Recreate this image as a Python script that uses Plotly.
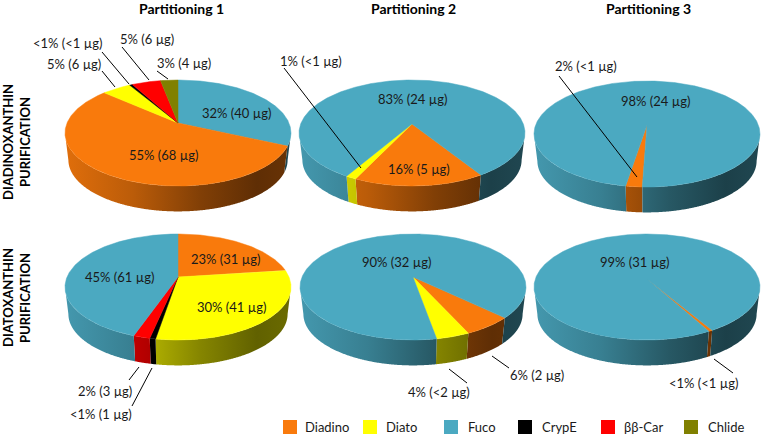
import numpy as np
import plotly.graph_objects as go

# ---------- data ----------
pigments = ["Diadino", "Diato", "Fuco", "CrypE", "ββ-Car", "Chlide"]
pigment_colors = ["#F97A0C", "#FFFF00", "#4BA9C1", "#000000", "#FF0000", "#808000"]
panel_titles = ["Partitioning 1", "Partitioning 2", "Partitioning 3"]

a1_slices = ["Fuco", "Diadino", "Diato", "CrypE", "ββ-Car", "Chlide"]
a1_values = [32, 55, 5, 0.5, 5, 3]
a2_slices = ["Diadino", "Diato", "Fuco"]
a2_values = [16, 1.3, 83]
a3_slices = ["Diadino", "Fuco"]
a3_values = [2, 98]
b1_slices = ["Diadino", "Diato", "CrypE", "ββ-Car", "Fuco"]
b1_values = [23, 30, 0.7, 2, 45]
b2_slices = ["Diadino", "Diato", "Fuco"]
b2_values = [6, 4, 90]
b3_slices = ["Diadino", "Fuco"]
b3_values = [0.5, 99]

# ---------- pie layout (pixels): cx, cy, apex y, first-slice angle ----------
pies = [
    (a1_slices, a1_values, 178, 133, 123, 0),
    (a2_slices, a2_values, 412, 133, 124, 148),
    (a3_slices, a3_values, 647, 134, 125, 182),
    (b1_slices, b1_values, 178, 287, 277, 0),
    (b2_slices, b2_values, 413, 287, 277, 134),
    (b3_slices, b3_values, 647, 287, 279, 149.5),
]
RX, RY, DEPTH, SHRINK = 113, 53, 27, 0.97


def rim(theta_deg, cx, cy, apex):
    """Perspective projection of a circle point; theta clockwise from 12 o'clock."""
    k = (cy - apex) / RY
    t = np.radians(theta_deg)
    u, v = np.sin(t), np.cos(t)
    den = 1 + k * v
    return u * np.sqrt(1 - k * k) / den, (v + k) / den


def shade(hex_color, f):
    r, g, b = (int(hex_color[i:i + 2], 16) for i in (1, 3, 5))
    return f"rgb({r * f:.0f},{g * f:.0f},{b * f:.0f})"


def wall_scale(c):
    stops = [(0, .90), (.3, .75), (.6, .52), (.85, .38), (1, .42)]
    return [[s, shade(c, f)] for s, f in stops]


color_of = dict(zip(pigments, pigment_colors))
fig = go.Figure()

for slices, values, cx, cy, apex, start in pies:
    total = sum(values)
    edges = start + np.cumsum([0] + list(values)) * 360 / total
    # side walls first
    for name, a0, a1 in zip(slices, edges[:-1], edges[1:]):
        th = np.linspace(a0, a1, max(int((a1 - a0) * 3), 8))
        u, v = rim(th, cx, cy, apex)
        vis = v <= 0.001
        idx = np.where(vis)[0]
        if len(idx) < 2:
            continue
        for run in np.split(idx, np.where(np.diff(idx) > 1)[0] + 1):
            if len(run) < 2:
                continue
            xt = cx + RX * u[run]
            yt = cy - RY * v[run]
            xb = cx + RX * SHRINK * u[run][::-1]
            yb = cy + DEPTH - RY * SHRINK * v[run][::-1]
            fig.add_trace(go.Scatter(
                x=np.r_[xt, xb, xt[0]], y=np.r_[yt, yb, yt[0]],
                mode="none", fill="toself", hoverinfo="skip", showlegend=False,
                fillgradient=dict(type="horizontal", colorscale=wall_scale(color_of[name]),
                                  start=cx - RX, stop=cx + RX)))
    # top faces
    for name, a0, a1 in zip(slices, edges[:-1], edges[1:]):
        th = np.linspace(a0, a1, max(int((a1 - a0) * 2), 4))
        u, v = rim(th, cx, cy, apex)
        fig.add_trace(go.Scatter(
            x=np.r_[cx, cx + RX * u, cx], y=np.r_[apex, cy - RY * v, apex],
            mode="lines", line=dict(color=color_of[name], width=0.5), fill="toself",
            fillcolor=color_of[name], name=name, hoverinfo="skip", showlegend=False))

# ---------- leader lines ----------
leaders = [
    (102, 52, 129, 84), (122, 47, 149, 80), (102, 71, 115, 87), (157, 71, 168, 79),
    (284, 68, 361, 168), (559, 76, 637, 177),
    (139, 367, 129, 380), (152, 368, 132, 406),
    (449, 369, 467, 383), (492, 356, 509, 368), (714, 359, 733, 373),
]
for x0, y0, x1, y1 in leaders:
    fig.add_shape(type="line", x0=x0, y0=y0, x1=x1, y1=y1, line=dict(color="#000000", width=1))

# ---------- labels ----------
FONT = "Lato"
labels = [
    ("<1% (<1 µg)", 67, 43), ("5% (6 µg)", 74, 64), ("5% (6 µg)", 147, 39), ("3% (4 µg)", 184, 63),
    ("32% (40 µg)", 236, 113), ("55% (68 µg)", 163, 155),
    ("1% (<1 µg)", 311, 61), ("83% (24 µg)", 412, 99), ("16% (5 µg)", 419, 169),
    ("2% (<1 µg)", 586, 66), ("98% (24 µg)", 655, 101),
    ("23% (31 µg)", 225, 259), ("30% (41 µg)", 231, 307), ("45% (61 µg)", 119, 277),
    ("2% (3 µg)", 105, 391), ("<1% (1 µg)", 101, 414),
    ("90% (32 µg)", 396, 262), ("4% (<2 µg)", 439, 392), ("6% (2 µg)", 537, 375),
    ("99% (31 µg)", 634, 262), ("<1% (<1 µg)", 703, 383),
]
for text, x, y in labels:
    fig.add_annotation(x=x, y=y, text=text, showarrow=False, xanchor="center", yanchor="middle",
                       font=dict(family=FONT, size=13, color="#1a1a1a"))

for title, x in zip(panel_titles, (181, 413, 648)):
    fig.add_annotation(x=x, y=8, text=title, showarrow=False, xanchor="center", yanchor="middle",
                       font=dict(family=FONT, size=14, color="#000000", weight="bold"))

row_labels = [("DIADINOXANTHIN", 8, 142), ("PURIFICATION", 25, 142),
              ("DIATOXANTHIN", 8, 298), ("PURIFICATION", 25, 298)]
for text, x, y in row_labels:
    fig.add_annotation(x=x, y=y, text=text, showarrow=False, textangle=-90, xanchor="center",
                       yanchor="middle", font=dict(family=FONT, size=13, color="#000000", weight="bold"))

# ---------- legend ----------
legend_swatch_x = [290, 370, 451, 525, 608, 691]
legend_text_x = [303, 384, 466, 540, 622, 706]
LEGEND_Y = 427
for name, sx, tx in zip(pigments, legend_swatch_x, legend_text_x):
    fig.add_trace(go.Scatter(x=[sx], y=[LEGEND_Y], mode="markers", name=name, hoverinfo="skip",
                             showlegend=False,
                             marker=dict(symbol="square", size=14, color=color_of[name], line=dict(width=0))))
    fig.add_annotation(x=tx, y=LEGEND_Y, text=name, showarrow=False, xanchor="left", yanchor="middle",
                       font=dict(family=FONT, size=13, color="#1a1a1a"))

fig.update_layout(
    width=761, height=436, margin=dict(l=0, r=0, t=0, b=0),
    paper_bgcolor="white", plot_bgcolor="white", showlegend=False,
    xaxis=dict(range=[0, 761], visible=False, fixedrange=True),
    yaxis=dict(range=[436, 0], visible=False, fixedrange=True),
)
fig.write_html("out.html", config={"displayModeBar": False},
               post_script="document.body.style.margin='0';document.documentElement.style.overflow='hidden';")
